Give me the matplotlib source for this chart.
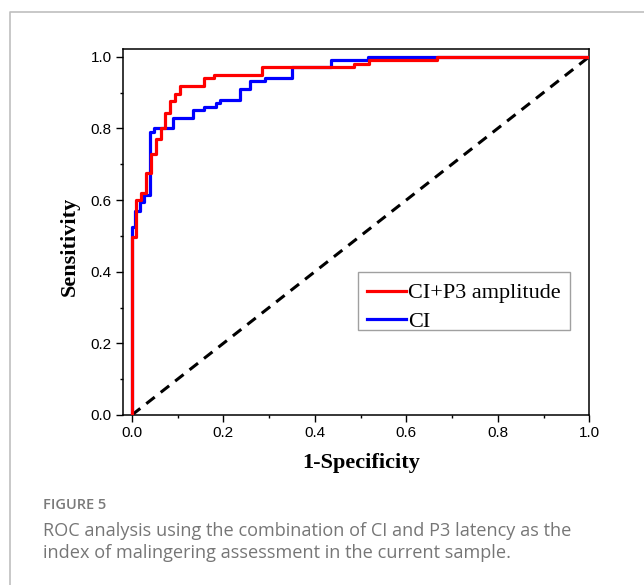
import matplotlib
matplotlib.use("Agg")
import matplotlib.pyplot as plt
from matplotlib.lines import Line2D
from matplotlib.patches import Rectangle

# ---- data ----
red_fpr = [0, 0, 0.0095, 0.020, 0.030, 0.041, 0.052, 0.063, 0.073, 0.084, 0.094, 0.105,
           0.157, 0.179, 0.285, 0.485, 0.518, 0.666, 1.0]
red_tpr = [0, 0.496, 0.600, 0.620, 0.675, 0.728, 0.770, 0.800, 0.844, 0.875, 0.897, 0.918,
           0.940, 0.950, 0.971, 0.980, 0.990, 1.0, 1.0]
blue_fpr = [0, 0, 0.007, 0.018, 0.027, 0.040, 0.049, 0.090, 0.133, 0.158, 0.184, 0.192,
            0.237, 0.258, 0.290, 0.351, 0.436, 0.516, 1.0]
blue_tpr = [0, 0.526, 0.568, 0.595, 0.615, 0.789, 0.800, 0.829, 0.850, 0.860, 0.871, 0.880,
            0.910, 0.931, 0.940, 0.972, 0.990, 1.0, 1.0]
ref_x = [0, 1]
ref_y = [0, 1]
labels = ["CI+P3 amplitude", "CI"]
xticks = [0.0, 0.2, 0.4, 0.6, 0.8, 1.0]
yticks = [0.0, 0.2, 0.4, 0.6, 0.8, 1.0]
fig_label = "FIGURE 5"
caption = ["ROC analysis using the combination of CI and P3 latency as the",
           "index of malingering assessment in the current sample."]

W, H = 644, 585
fig = plt.figure(figsize=(W / 100, H / 100), dpi=100)
fig.patch.set_facecolor("white")

# outer frame (left and top edges visible)
fig.add_artist(Line2D([10 / W, 10 / W, 1.0], [0.0, 1 - 12 / H, 1 - 12 / H],
                      transform=fig.transFigure, color="#bfbfbf", lw=1.2))

ax_left, ax_right, ax_top, ax_bottom = 122.7, 589.3, 49.3, 415.0
axw, axh = ax_right - ax_left, ax_bottom - ax_top
ax = fig.add_axes([ax_left / W, 1 - ax_bottom / H, axw / W, axh / H])


def ax_x(px):
    return (px - ax_left) / axw


def ax_y(py):
    return 1 - (py - ax_top) / axh


ax.plot(ref_x, ref_y, color="black", lw=2.2, linestyle=(0, (3.5, 2.5)), zorder=2)
lb, = ax.step(blue_fpr, blue_tpr, where="post", color="#0000ff", lw=2.3, zorder=3,
              label=labels[1])
lr, = ax.step(red_fpr, red_tpr, where="post", color="#ff0000", lw=2.3, zorder=4,
              label=labels[0])

ax.set_xlim(-0.02, 1.0)
ax.set_ylim(0.0, 1.0206)
ax.set_xticks(xticks)
ax.set_yticks(yticks)
ax.set_xticks([0.1, 0.3, 0.5, 0.7, 0.9], minor=True)
ax.set_yticks([0.1, 0.3, 0.5, 0.7, 0.9], minor=True)
ax.set_xticklabels([f"{v:.1f}" for v in xticks])
ax.set_yticklabels([f"{v:.1f}" for v in yticks])
ax.tick_params(which="major", direction="out", length=4.8, width=1.0, pad=3,
               labelsize=11, colors="black")
ax.tick_params(which="minor", direction="out", length=2.5, width=1.0)
for lab in ax.get_xticklabels() + ax.get_yticklabels():
    lab.set_family("Liberation Sans")
for s in ax.spines.values():
    s.set_linewidth(1.1)

ax.set_xlabel("1-Specificity", family="Liberation Serif", weight="bold", fontsize=16)
ax.set_ylabel("Sensitivity", family="Liberation Serif", weight="bold", fontsize=16)
ax.xaxis.set_label_coords(ax_x(361), ax_y(463))
ax.yaxis.set_label_coords(ax_x(70), ax_y(246))
ax.xaxis.label.set_va("center")
ax.yaxis.label.set_va("center")

# legend frame
ax.add_patch(Rectangle((ax_x(358.3), ax_y(330)), ax_x(570) - ax_x(358.3),
                       ax_y(271.7) - ax_y(330), transform=ax.transAxes,
                       facecolor="white", edgecolor="#a0a0a0", lw=1.0, zorder=5.5,
                       clip_on=False))
leg = ax.legend(handles=[lr, lb], loc="upper left",
                bbox_to_anchor=(ax_x(362.9), ax_y(278.4)),
                borderaxespad=0, frameon=False,
                prop={"family": "Liberation Serif", "size": 16},
                handlelength=1.73, handletextpad=0.12, labelspacing=0.345,
                borderpad=0.2)
leg.set_zorder(6)

fig.text(43 / W, 1 - 509 / H, fig_label, family="Open Sans", weight="semibold",
         fontsize=10.5, color="#7a7a7a", va="baseline", ha="left")
fig.text(43 / W, 1 - 536.5 / H, caption[0], family="Open Sans", fontsize=13.1,
         color="#767676", va="baseline", ha="left")
fig.text(43 / W, 1 - 558.5 / H, caption[1], family="Open Sans", fontsize=13.1,
         color="#767676", va="baseline", ha="left")

fig.savefig("out.png", dpi=100, facecolor="white")
